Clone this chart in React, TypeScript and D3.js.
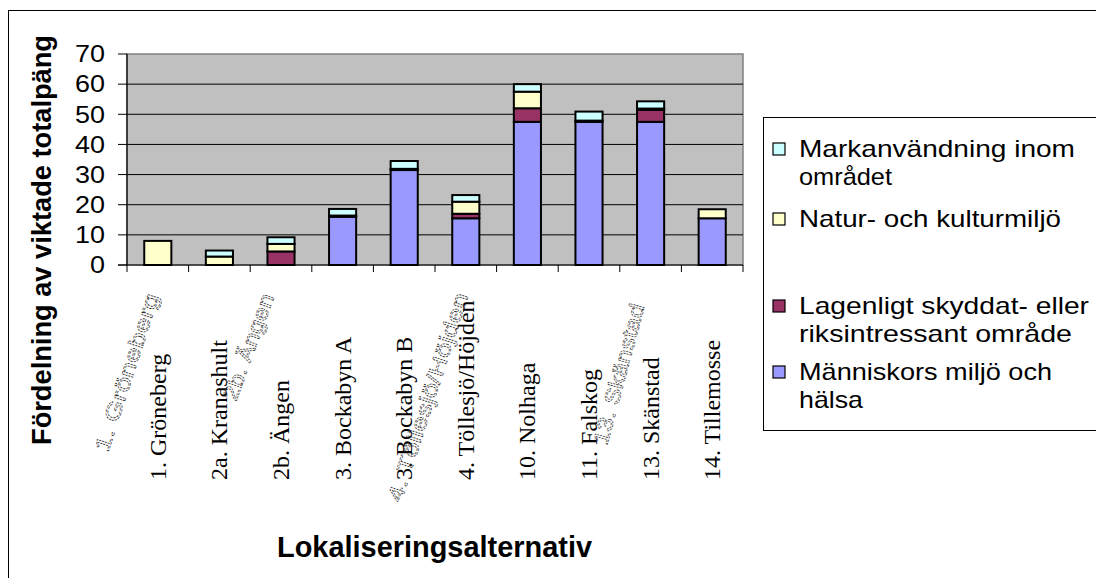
import * as d3 from "d3";

const categories = [
  "1. Gröneberg",
  "2a. Kranashult",
  "2b. Ängen",
  "3. Bockabyn A",
  "3. Bockabyn B",
  "4. Töllesjö/Höjden",
  "10. Nolhaga",
  "11. Falskog",
  "13. Skänstad",
  "14. Tillemosse",
];

// stacked from the bottom up
const manniskor = [0, 0, 0, 16, 31.5, 15.5, 47.5, 47.5, 47.5, 15.5];
const lagenligt = [0, 0, 4.5, 0.4, 0.4, 1.5, 4.5, 0.4, 4, 0];
const natur = [8, 2.8, 2.5, 0, 0, 4, 5.5, 0, 0.4, 3];
const markanv = [0, 2, 2.2, 2.2, 2.6, 2.2, 2.5, 3, 2.4, 0];

const seriesKeys = ["manniskor", "lagenligt", "natur", "markanv"];
const seriesColors = ["#9999FF", "#993366", "#FFFFCC", "#CCFFFF"];

const yTicks = [0, 10, 20, 30, 40, 50, 60, 70];

// legend, top entry first
const legendLines = [
  ["Markanvändning inom", "området"],
  ["Natur- och kulturmiljö"],
  ["Lagenligt skyddat- eller", "riksintressant område"],
  ["Människors miljö och", "hälsa"],
];
const legendColors = ["#CCFFFF", "#FFFFCC", "#993366", "#9999FF"];
const legendWidths = [[276, 93], [262], [290, 273], [253, 64]];

// stray labels that sit over the axis area in the original
const strayLabels = ["1. Gröneberg", "2b. Ängen", "4. Töllesjö/Höjden", "13. Skänstad"];

const W = 1096;
const H = 578;
const plot = { left: 127, right: 743, top: 54, bottom: 265 };
const sans = "'Liberation Sans', Arial, sans-serif";
const serif = "'Liberation Serif', 'Times New Roman', serif";

export default function App() {
  const x = d3
    .scaleBand()
    .domain(categories)
    .range([plot.left, plot.right])
    .paddingInner(0)
    .paddingOuter(0);
  const y = d3.scaleLinear().domain([0, 70]).range([plot.bottom, plot.top]);

  const table = categories.map((c, i) => ({
    cat: c,
    manniskor: manniskor[i],
    lagenligt: lagenligt[i],
    natur: natur[i],
    markanv: markanv[i],
  }));
  const stacked = d3.stack<any>().keys(seriesKeys)(table);

  const step = x.bandwidth();
  const barW = step * 0.44;

  const strayPos = [
    { x: 108, y: 453, a: -72, len: 165 },
    { x: 236, y: 402, a: -70, len: 112 },
    { x: 401, y: 503, a: -72, len: 218 },
    { x: 607, y: 446, a: -75, len: 145 },
  ];
  const legendBase = [157, 227, 314, 380];

  return (
    <svg
      width={W}
      height={H}
      style={{ position: "absolute", left: 0, top: 0, background: "#fff" }}
    >
      {/* chart frame */}
      <rect x={8.5} y={10.5} width={1200} height={700} fill="#fff" stroke="#000" strokeWidth={1} />

      {/* plot area */}
      <rect
        x={plot.left}
        y={plot.top}
        width={plot.right - plot.left}
        height={plot.bottom - plot.top}
        fill="#C0C0C0"
        stroke="#808080"
        strokeWidth={1.5}
      />
      {yTicks.slice(1, -1).map((t) => (
        <line
          key={"g" + t}
          x1={plot.left}
          x2={plot.right}
          y1={y(t)}
          y2={y(t)}
          stroke="#000"
          strokeWidth={1}
        />
      ))}

      {/* bars */}
      {stacked.map((s, si) =>
        s.map((d, i) =>
          d[1] - d[0] > 0 ? (
            <rect
              key={si + "-" + i}
              x={(x(categories[i]) as number) + (step - barW) / 2}
              y={y(d[1])}
              width={barW}
              height={y(d[0]) - y(d[1])}
              fill={seriesColors[si]}
              stroke="#000"
              strokeWidth={2}
            />
          ) : null
        )
      )}

      {/* axes */}
      <line x1={plot.left} x2={plot.left} y1={plot.top} y2={plot.bottom} stroke="#000" strokeWidth={1.2} />
      <line x1={plot.left - 9} x2={plot.right} y1={plot.bottom} y2={plot.bottom} stroke="#000" strokeWidth={1.2} />
      {yTicks.map((t) => (
        <g key={"t" + t}>
          <line x1={plot.left - 9} x2={plot.left} y1={y(t)} y2={y(t)} stroke="#000" strokeWidth={1} />
          <text
            x={105}
            y={y(t)}
            dy="0.36em"
            textAnchor="end"
            fontFamily={sans}
            fontSize={23}
            textLength={String(t).length * 15}
            lengthAdjust="spacingAndGlyphs"
          >
            {t}
          </text>
        </g>
      ))}
      {categories.concat(["end"]).map((c, i) => {
        const xx = plot.left + i * step;
        return <line key={"xt" + i} x1={xx} x2={xx} y1={plot.bottom} y2={plot.bottom + 7} stroke="#000" strokeWidth={1} />;
      })}
      {categories.map((c) => {
        const cx = (x(c) as number) + step / 2 + 8;
        return (
          <text
            key={"xl" + c}
            transform={`translate(${cx},480) rotate(-90)`}
            fontFamily={serif}
            fontSize={24}
          >
            {c}
          </text>
        );
      })}

      {/* stray rotated labels */}
      {strayLabels.map((s, i) => (
        <text
          key={"s" + i}
          transform={`translate(${strayPos[i].x},${strayPos[i].y}) rotate(${strayPos[i].a})`}
          fontFamily={sans}
          fontSize={21}
          fill="none"
          stroke="#333"
          strokeWidth={0.7}
          strokeDasharray="2,1"
          textLength={strayPos[i].len}
          lengthAdjust="spacingAndGlyphs"
        >
          {s}
        </text>
      ))}

      {/* axis titles */}
      <text
        transform="translate(51,240) rotate(-90)"
        textAnchor="middle"
        fontFamily={sans}
        fontWeight="bold"
        fontSize={28}
        textLength={410}
        lengthAdjust="spacingAndGlyphs"
      >
        Fördelning av viktade totalpäng
      </text>
      <text
        x={277}
        y={557}
        fontFamily={sans}
        fontWeight="bold"
        fontSize={29}
        textLength={315}
        lengthAdjust="spacingAndGlyphs"
      >
        Lokaliseringsalternativ
      </text>

      {/* legend */}
      <rect x={763.5} y={117.5} width={400} height={313} fill="#fff" stroke="#000" strokeWidth={1} />
      {legendLines.map((lines, i) => (
        <g key={"lg" + i}>
          <rect
            x={773}
            y={legendBase[i] - 14}
            width={12}
            height={12}
            fill={legendColors[i]}
            stroke="#000"
            strokeWidth={1.2}
          />
          {lines.map((ln, j) => (
            <text
              key={j}
              x={799}
              y={legendBase[i] + j * 28}
              fontFamily={sans}
              fontSize={24}
              textLength={legendWidths[i][j]}
              lengthAdjust="spacingAndGlyphs"
            >
              {ln}
            </text>
          ))}
        </g>
      ))}
    </svg>
  );
}
